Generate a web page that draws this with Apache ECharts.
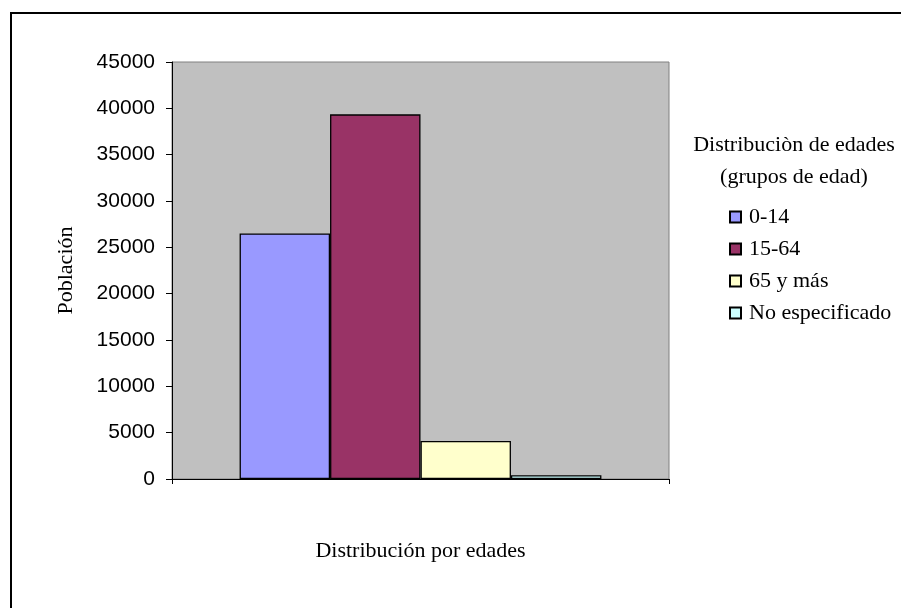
<!DOCTYPE html>
<html>
<head>
<meta charset="utf-8">
<script src="https://cdn.jsdelivr.net/npm/echarts@6/dist/echarts.min.js"></script>
<style>
  html, body { margin: 0; padding: 0; background: #fff; }
  #chart { width: 901px; height: 608px; }
</style>
</head>
<body>
<div id="chart"></div>
<script>
    // datos
    var categories = [''];
    var grupos = ['0-14', '15-64', '65 y más', 'No especificado'];
    var valores = [26500, 39350, 4100, 400];
    var colores = ['#9999FF', '#993366', '#FFFFCC', '#CCFFFF'];
    var yTicks = { min: 0, max: 45000, interval: 5000 };

    var serif = 'Liberation Serif';
    var sans = 'Liberation Sans';

    var series = [];
    for (var i = 0; i < grupos.length; i++) {
        series.push({
            name: grupos[i],
            type: 'bar',
            barGap: '0%',
            barCategoryGap: '27.2%',
            data: [valores[i]],
            itemStyle: {
                color: colores[i],
                borderColor: '#000',
                borderWidth: 1.3
            }
        });
    }

    var myChart = echarts.init(document.getElementById('chart'));
    myChart.setOption({
        animation: false,
        backgroundColor: '#fff',
        graphic: [{
            type: 'rect',
            silent: true,
            shape: { x: 11, y: 13, width: 1000, height: 1000 },
            style: { fill: 'none', stroke: '#000', lineWidth: 2 }
        }],
        title: {
            text: 'Distribuciòn de edades\n(grupos de edad)',
            left: 794,
            top: 129,
            padding: 0,
            textAlign: 'center',
            textStyle: {
                fontFamily: serif,
                fontSize: 22,
                fontWeight: 'normal',
                color: '#000',
                lineHeight: 32
            }
        },
        legend: {
            orient: 'vertical',
            left: 729,
            top: 206,
            padding: 0,
            itemWidth: 11,
            itemHeight: 11,
            itemGap: 10,
            icon: 'rect',
            data: grupos,
            textStyle: {
                fontFamily: serif,
                fontSize: 22,
                color: '#000',
                padding: [0, 0, 0, 3]
            }
        },
        grid: {
            left: 172,
            top: 62,
            right: 232,
            bottom: 129,
            show: true,
            backgroundColor: '#C0C0C0',
            borderColor: '#808080',
            borderWidth: 1
        },
        xAxis: {
            type: 'category',
            data: categories,
            name: 'Distribución por edades',
            nameLocation: 'middle',
            nameGap: 61,
            nameTextStyle: { fontFamily: serif, fontSize: 22, color: '#000' },
            axisLine: { lineStyle: { color: '#000', width: 1 } },
            axisTick: { show: true, length: 5, lineStyle: { color: '#000' } },
            axisLabel: { show: false }
        },
        yAxis: {
            type: 'value',
            min: yTicks.min,
            max: yTicks.max,
            interval: yTicks.interval,
            name: 'Población',
            nameLocation: 'middle',
            nameRotate: 90,
            nameGap: 95,
            nameTextStyle: { fontFamily: serif, fontSize: 22, color: '#000' },
            axisLine: { show: true, lineStyle: { color: '#000', width: 1 } },
            axisTick: { show: true, length: 6, lineStyle: { color: '#000' } },
            axisLabel: {
                fontFamily: sans,
                fontSize: 21,
                color: '#000',
                margin: 17,
                formatter: function (v) { return String(v); }
            },
            splitLine: { show: false }
        },
        series: series
    });
</script>
</body>
</html>
